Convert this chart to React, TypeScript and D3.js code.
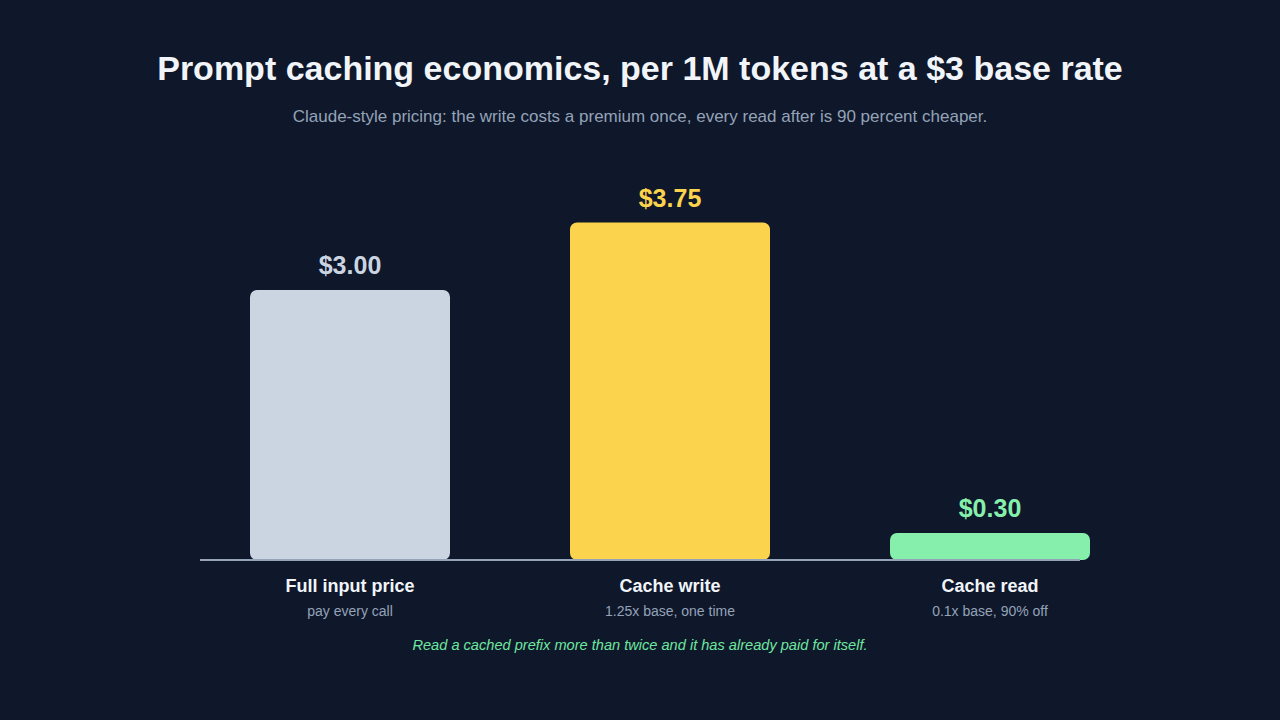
import * as d3 from "d3";

const categories = ["Full input price", "Cache write", "Cache read"];
const notes = ["pay every call", "1.25x base, one time", "0.1x base, 90% off"];
const prices = [3.0, 3.75, 0.3];
const colors = ["#cbd5e1", "#fcd34d", "#86efac"];

const W = 1280;
const H = 720;
const base = 560;
const font = "'Liberation Sans', Arial, sans-serif";

export default function App() {
  const x = d3.scaleBand<string>().domain(categories).range([190, 1150]).paddingInner(0.375).paddingOuter(0.1875);
  const y = d3.scaleLinear().domain([0, 4]).range([base, 200]);

  return (
    <svg width={W} height={H} style={{ position: "fixed", left: 0, top: 0, background: "#0f172a" }} fontFamily={font}>
      <rect width={W} height={H} fill="#0f172a" />
      <text x={W / 2} y={80} textAnchor="middle" fontSize={34} fontWeight="bold" fill="#f1f5f9">
        Prompt caching economics, per 1M tokens at a $3 base rate
      </text>
      <text x={W / 2} y={122} textAnchor="middle" fontSize={17} fill="#94a3b8">
        Claude-style pricing: the write costs a premium once, every read after is 90 percent cheaper.
      </text>
      <g>
        {categories.map((c, i) => (
          <g key={c}>
            <rect x={x(c)} y={y(prices[i])} width={x.bandwidth()} height={base - y(prices[i])} rx={7} fill={colors[i]} />
            <text x={x(c)! + x.bandwidth() / 2} y={y(prices[i]) - 16} textAnchor="middle" fontSize={25} fontWeight="bold" fill={colors[i]}>
              {d3.format("$.2f")(prices[i])}
            </text>
            <text x={x(c)! + x.bandwidth() / 2} y={592} textAnchor="middle" fontSize={18} fontWeight="bold" fill="#f1f5f9">
              {c}
            </text>
            <text x={x(c)! + x.bandwidth() / 2} y={616} textAnchor="middle" fontSize={14} fill="#94a3b8">
              {notes[i]}
            </text>
          </g>
        ))}
      </g>
      <line x1={200} x2={1080} y1={base} y2={base} stroke="#94a3b8" strokeWidth={2} />
      <text x={W / 2} y={650} textAnchor="middle" fontSize={14.6} fontStyle="italic" fill="#6ee7a0">
        Read a cached prefix more than twice and it has already paid for itself.
      </text>
    </svg>
  );
}
